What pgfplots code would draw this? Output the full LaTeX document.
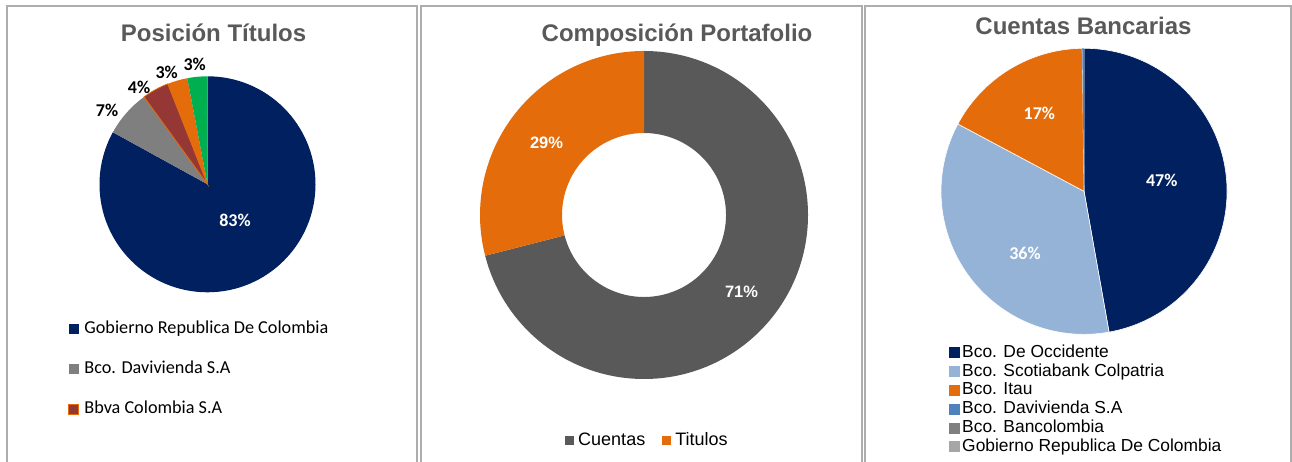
\documentclass[border=0pt]{standalone}
\usepackage{pgfplots}
\pgfplotsset{compat=1.18}
\usepackage{fontspec}
\setmainfont{Liberation Sans}
\newfontfamily\calibri{Carlito}
\definecolor{navyc}{HTML}{002060}
\definecolor{grayc}{HTML}{7F7F7F}
\definecolor{brownc}{HTML}{953735}
\definecolor{orangec}{HTML}{E46C0A}
\definecolor{greenc}{HTML}{00B050}
\definecolor{dgray}{HTML}{595959}
\definecolor{lblue}{HTML}{95B3D7}
\definecolor{mblue}{HTML}{4F81BD}
\definecolor{lgray}{HTML}{A6A6A6}
\definecolor{titlec}{HTML}{595959}
\definecolor{borderc}{HTML}{ADADAD}
% pie slice: cx, cy, start pct, pct, radius, style
\newcommand\pieslice[6]{\fill[#6] (axis cs:#1,#2) -- ++({90-3.6*(#3)}:#5pt) arc[start angle={90-3.6*(#3)}, end angle={90-3.6*(#3+#4)}, radius=#5pt] -- cycle;}
% donut slice: cx, cy, start pct, pct, outer r, inner r, style
\newcommand\donutslice[7]{\fill[#7, shift={(axis cs:#1,#2)}] ({90-3.6*(#3)}:#5pt) arc[start angle={90-3.6*(#3)}, end angle={90-3.6*(#3+#4)}, radius=#5pt] -- ({90-3.6*(#3+#4)}:#6pt) arc[start angle={90-3.6*(#3+#4)}, end angle={90-3.6*(#3)}, radius=#6pt] -- cycle;}
\pgfplotsset{panel/.style={at={(0pt,0pt)}, anchor=south west, x=1pt, y=1pt, xmin=0, xmax=1292, ymin=0, ymax=462, hide axis, clip=false, legend cell align=left}}
\begin{document}
\begin{tikzpicture}
\useasboundingbox (0pt,0pt) rectangle (1292pt,462pt);
% ---------- Panel 1 ----------
\begin{axis}[panel,
  legend image code/.code={\path[#1] (0pt,-5pt) rectangle (10pt,5pt);},
  legend style={draw=none, fill=none, inner sep=0pt, at={(0.05263,0.30519)}, anchor=north west,
    font=\calibri\fontsize{18.2}{21}\selectfont, row sep=24pt,
    nodes={inner sep=0pt, text height=12pt, text depth=4pt},
    /tikz/every odd column/.append style={column sep=5pt}}]
\draw[borderc, line width=1.8pt] (axis cs:7,-3) -- (axis cs:7,456) -- (axis cs:417,456) -- (axis cs:417,-3);
\pieslice{207.5}{277.7}{0}{83}{108}{navyc}
\pieslice{207.5}{277.7}{83}{7}{108}{grayc}
\pieslice{207.5}{277.7}{90}{4}{108}{fill=brownc, draw=orangec, line width=0.8pt}
\pieslice{207.5}{277.7}{94}{3}{108}{orangec}
\pieslice{207.5}{277.7}{97}{3}{108}{greenc}
\node[anchor=base, font=\bfseries\fontsize{24}{28}\selectfont, text=titlec] at (axis cs:213.5,420.3) {Posición Títulos};
\node[anchor=base, font=\calibri\bfseries\fontsize{18}{21}\selectfont, text=white] at (axis cs:235,235.3) {83\%};
\node[anchor=base, font=\calibri\bfseries\fontsize{18}{21}\selectfont, text=black] at (axis cs:107,345.3) {7\%};
\node[anchor=base, font=\calibri\bfseries\fontsize{18}{21}\selectfont, text=black] at (axis cs:139,368.7) {4\%};
\node[anchor=base, font=\calibri\bfseries\fontsize{18}{21}\selectfont, text=black] at (axis cs:166.7,383.7) {3\%};
\node[anchor=base, font=\calibri\bfseries\fontsize{18}{21}\selectfont, text=black] at (axis cs:194.7,391.3) {3\%};
\addlegendimage{fill=navyc, draw=none}
\addlegendentry{Gobierno Republica De Colombia}
\addlegendimage{fill=grayc, draw=none}
\addlegendentry{Bco. Davivienda S.A}
\addlegendimage{fill=brownc, draw=orangec, line width=1.2pt}
\addlegendentry{Bbva Colombia S.A}
\end{axis}
% ---------- Panel 2 ----------
\begin{axis}[panel,
  legend columns=2,
  legend image code/.code={\path[#1] (0pt,-4.5pt) rectangle (9pt,4.5pt);},
  legend style={draw=none, fill=none, inner sep=0pt, at={(0.43731,0.04545)}, anchor=west,
    font=\fontsize{18}{21}\selectfont,
    nodes={inner sep=0pt, text height=13pt, text depth=3.7pt},
    /tikz/every odd column/.append style={column sep=4pt},
    /tikz/every even column/.append style={column sep=17pt}}]
\draw[borderc, line width=1.8pt] (axis cs:421,-3) -- (axis cs:421,456) -- (axis cs:862,456) -- (axis cs:862,-3);
\donutslice{644}{247}{0}{71}{164}{82}{dgray}
\donutslice{644}{247}{71}{29}{164}{82}{orangec}
\node[anchor=base, font=\bfseries\fontsize{24}{28}\selectfont, text=titlec] at (axis cs:677,420.3) {Composición Portafolio};
\node[anchor=base, font=\bfseries\fontsize{16.5}{20}\selectfont, text=white] at (axis cs:546.5,313.7) {29\%};
\node[anchor=base, font=\bfseries\fontsize{16.5}{20}\selectfont, text=white] at (axis cs:741.5,164.3) {71\%};
\addlegendimage{fill=dgray, draw=none}
\addlegendentry{Cuentas}
\addlegendimage{fill=orangec, draw=none}
\addlegendentry{Titulos}
\end{axis}
% ---------- Panel 3 ----------
\begin{axis}[panel,
  legend image code/.code={\path[#1] (0pt,-5.5pt) rectangle (11pt,5.5pt);},
  legend style={draw=none, fill=none, inner sep=0pt, at={(0.73452,0.25390)}, anchor=north west,
    font=\fontsize{17.4}{20}\selectfont, row sep=2.6pt,
    nodes={inner sep=0pt, text height=12.5pt, text depth=3.7pt},
    /tikz/every odd column/.append style={column sep=2pt}}]
\draw[borderc, line width=1.8pt] (axis cs:865,-3) -- (axis cs:865,456) -- (axis cs:1291,456) -- (axis cs:1291,-3);
\pieslice{1084}{270.7}{0}{47.2}{143}{fill=navyc, draw=white, line width=0.6pt}
\pieslice{1084}{270.7}{47.2}{35.6}{143}{fill=lblue, draw=white, line width=0.6pt}
\pieslice{1084}{270.7}{82.8}{17.0}{143}{fill=orangec, draw=white, line width=0.6pt}
\pieslice{1084}{270.7}{99.8}{0.2}{143}{fill=mblue, draw=none}
\node[anchor=base, font=\bfseries\fontsize{24}{28}\selectfont, text=titlec] at (axis cs:1083.5,427) {Cuentas Bancarias};
\node[anchor=base, font=\calibri\bfseries\fontsize{18}{21}\selectfont, text=white] at (axis cs:1161.7,275.3) {47\%};
\node[anchor=base, font=\calibri\bfseries\fontsize{18}{21}\selectfont, text=white] at (axis cs:1025,202.7) {36\%};
\node[anchor=base, font=\calibri\bfseries\fontsize{18}{21}\selectfont, text=white] at (axis cs:1039.3,342) {17\%};
\addlegendimage{fill=navyc, draw=none}
\addlegendentry{Bco. De Occidente}
\addlegendimage{fill=lblue, draw=none}
\addlegendentry{Bco. Scotiabank Colpatria}
\addlegendimage{fill=orangec, draw=none}
\addlegendentry{Bco. Itau}
\addlegendimage{fill=mblue, draw=none}
\addlegendentry{Bco. Davivienda S.A}
\addlegendimage{fill=grayc, draw=none}
\addlegendentry{Bco. Bancolombia}
\addlegendimage{fill=lgray, draw=none}
\addlegendentry{Gobierno Republica De Colombia}
\end{axis}
\end{tikzpicture}
\end{document}
